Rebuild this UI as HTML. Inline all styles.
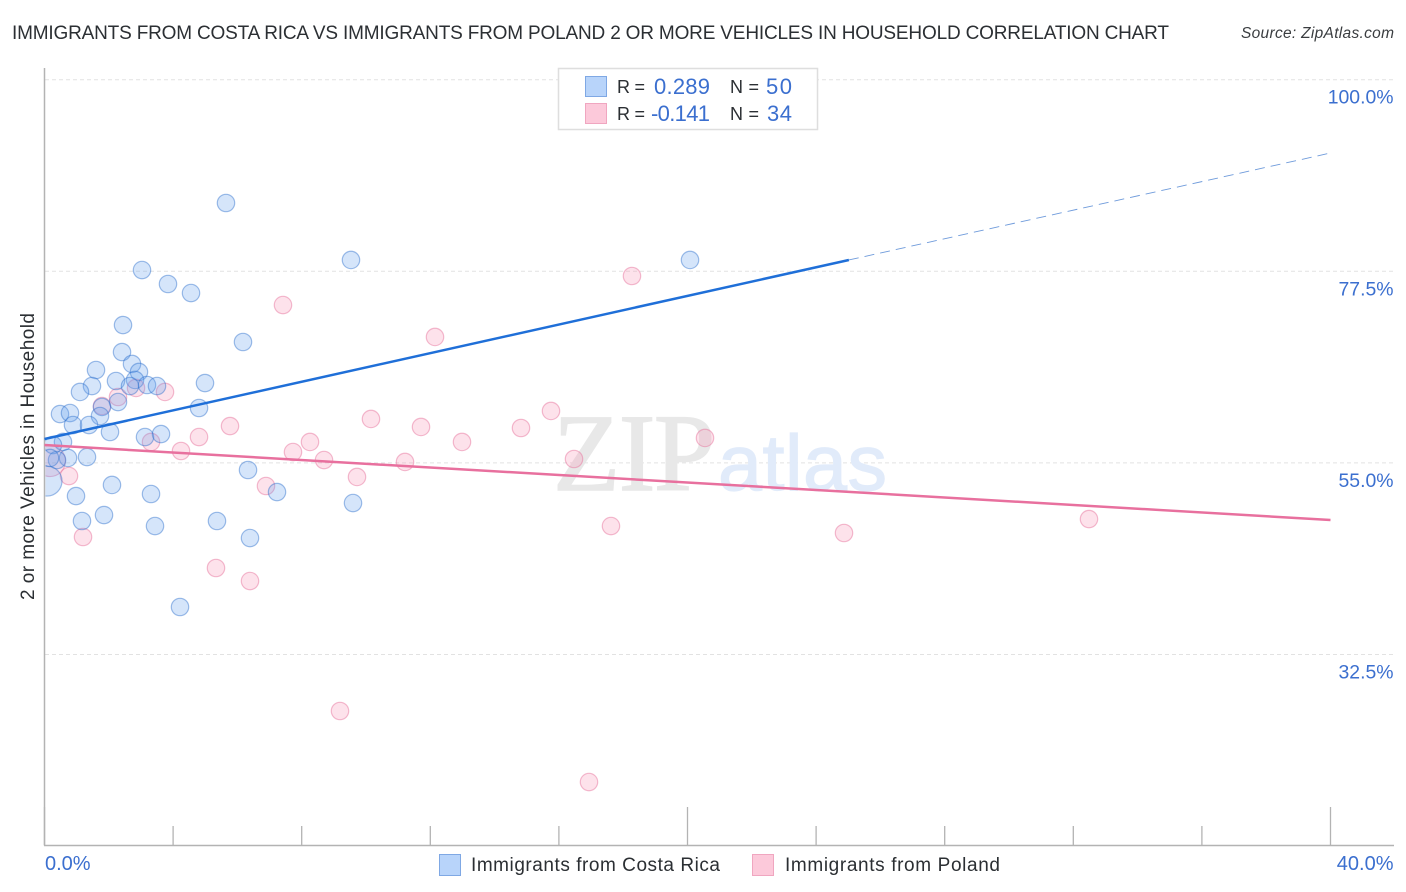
<!DOCTYPE html>
<html lang="en">
<head>
<meta charset="utf-8">
<title>Immigrants from Costa Rica vs Immigrants from Poland correlation chart</title>
<style>
html,body{margin:0;padding:0;background:#fff;}
body{width:1406px;height:892px;overflow:hidden;}
svg{display:block;font-family:"Liberation Sans",sans-serif;}
</style>
</head>
<body>
<svg id="chart" width="1406" height="892" viewBox="0 0 1406 892" xmlns="http://www.w3.org/2000/svg">
  <defs>
    <clipPath id="plot-clip"><rect x="45.5" y="60" width="1350" height="785"></rect></clipPath>
  </defs>
  <rect x="0" y="0" width="1406" height="892" fill="#fff"></rect>

  <text x="12" y="39" font-size="19" textLength="1157" fill="#2b2f33">IMMIGRANTS FROM COSTA RICA VS IMMIGRANTS FROM POLAND 2 OR MORE VEHICLES IN HOUSEHOLD CORRELATION CHART</text>
  <text x="1241" y="38" font-size="15.5" font-style="italic" textLength="153" fill="#3a3d40">Source: ZipAtlas.com</text>

  <g id="grid"></g>

  <g>
    <text x="553" y="490" font-family="'Liberation Serif',serif" font-size="110" textLength="162" fill="#e8e8e8" stroke="#e8e8e8" stroke-width="1.5">ZIP</text>
    <text x="718" y="490" font-size="79" textLength="169" fill="#e1ebfa" stroke="#e1ebfa" stroke-width="1.2">atlas</text>
  </g>

  <g id="axes"></g>
  <g id="y-labels"></g>
  <g id="x-labels"></g>

  <text transform="translate(34 600) rotate(-90)" x="0" y="0" font-size="19" textLength="287" fill="#2b2f33">2 or more Vehicles in Household</text>

  <g id="points" clip-path="url(#plot-clip)"></g>
  <g id="trends"></g>

  <g>
    <rect x="558.5" y="68.5" width="259" height="61" fill="#fff" stroke="#dedede" stroke-width="1.5"></rect>
    <rect x="585.5" y="76.5" width="21" height="20" fill="#b8d4fa" stroke="#7fa8e4" stroke-width="1"></rect>
    <rect x="585.5" y="103.5" width="21" height="20" fill="#fcc9da" stroke="#f0a6c0" stroke-width="1"></rect>
    <text x="617" y="93" font-size="18" textLength="28" fill="#2b2f33">R =</text>
    <text x="654" y="94" font-size="22" textLength="56" fill="#3b6fcf">0.289</text>
    <text x="730" y="93" font-size="18" textLength="29" fill="#2b2f33">N =</text>
    <text x="766" y="94" font-size="22" textLength="26" fill="#3b6fcf">50</text>
    <text x="617" y="120" font-size="18" textLength="28" fill="#2b2f33">R =</text>
    <text x="651" y="121" font-size="22" textLength="59" fill="#3b6fcf">-0.141</text>
    <text x="730" y="120" font-size="18" textLength="29" fill="#2b2f33">N =</text>
    <text x="767" y="121" font-size="22" textLength="25" fill="#3b6fcf">34</text>
  </g>

  <g>
    <rect x="439.5" y="854.5" width="21" height="21" fill="#b8d4fa" stroke="#7fa8e4" stroke-width="1"></rect>
    <text x="471" y="871" font-size="19" textLength="249" fill="#2b2f33">Immigrants from Costa Rica</text>
    <rect x="752.5" y="854.5" width="21" height="21" fill="#fcc9da" stroke="#f0a6c0" stroke-width="1"></rect>
    <text x="785" y="871" font-size="19" textLength="215" fill="#2b2f33">Immigrants from Poland</text>
  </g>
</svg>

<script>
var blueX = [5.645,9.533,20.078,3.033,3.841,4.557,2.442,6.174,2.411,2.722,1.602,2.939,2.224,2.815,1.477,2.659,3.188,3.499,4.992,1.104,2.286,1.788,4.806,1.726,0.482,0.793,0.886,1.384,2.037,3.126,3.624,0.575,0.264,0.731,1.322,0.389,0.980,2.099,3.313,6.330,7.232,9.596,1.851,1.166,3.437,5.365,6.392,4.215,0.171];
var blueY = [85.52,78.83,78.83,77.65,76.01,74.95,71.19,69.20,68.02,66.62,65.91,65.68,64.62,64.74,64.03,64.03,64.15,64.03,64.38,63.33,62.15,61.57,61.45,60.51,60.74,60.86,59.45,59.45,58.63,58.04,58.39,57.46,57.10,55.58,55.69,55.34,51.11,52.41,51.35,54.17,51.58,50.29,48.88,48.18,47.59,48.18,46.18,38.08,55.58];
var blueLargeX = [0.078];
var blueLargeY = [52.87];
var pinkX = [1.788,2.286,2.846,3.748,5.770,4.806,3.313,4.246,7.729,0.762,6.889,1.198,5.334,6.392,7.418,12.146,18.273,10.155,11.711,8.258,12.986,14.821,15.754,8.694,11.213,9.720,16.470,20.544,17.620,24.868,32.488,9.191,16.936];
var pinkY = [61.68,62.74,63.80,63.33,59.33,58.04,57.46,56.40,56.28,53.46,52.29,46.30,42.66,41.13,73.54,69.79,76.95,60.16,59.22,57.46,57.46,59.10,61.10,55.34,55.11,53.35,55.46,57.93,47.59,46.77,48.41,25.87,17.53];
var pinkLargeX = [0.171];
var pinkLargeY = [55.22];
var blueTrendX = [0, 25.02];
var blueTrendY = [57.81, 78.83];
var blueDashX = [25.02, 40];
var blueDashY = [78.83, 91.39];
var pinkTrendX = [0, 40];
var pinkTrendY = [57.1, 48.3];
var yTicks = [100, 77.5, 55, 32.5];
var yTickLabels = ['100.0%', '77.5%', '55.0%', '32.5%'];
var xTicks = [0, 4, 8, 12, 16, 20, 24, 28, 32, 36, 40];
var xMajorTicks = [0, 20, 40];
var xEndLabels = [0, 40];
var xEndLabelText = ['0.0%', '40.0%'];

var NS = 'http://www.w3.org/2000/svg';
function xPos(v) { return 44.5 + v * 32.15; }
function yPos(v) { return 79.7 + (100 - v) * 8.516; }
function make(tag, attrs, parent) {
  var el = document.createElementNS(NS, tag);
  for (var k in attrs) { el.setAttribute(k, attrs[k]); }
  parent.appendChild(el);
  return el;
}

var grid = document.getElementById('grid');
var yLabels = document.getElementById('y-labels');
yTicks.forEach(function (t, i) {
  var line = make('line', {x1: 45, x2: 1394, y1: yPos(t), y2: yPos(t), stroke: '#e2e2e2', 'stroke-width': 1, 'stroke-dasharray': '4 3'}, grid);
  
  
  var label = make('text', {x: 1393.5, y: yPos(t) + 24, 'font-size': 19.4, 'text-anchor': 'end', fill: '#3b6fcf'}, yLabels);
  label.textContent = yTickLabels[i];
  
  
});

var axes = document.getElementById('axes');
var yAxis = make('line', {x1: 44.5, x2: 44.5, y1: 68, y2: 845.5, stroke: '#b3b3b3', 'stroke-width': 1.5}, axes);


var xAxis = make('line', {x1: 44, x2: 1394, y1: 845.5, y2: 845.5, stroke: '#b3b3b3', 'stroke-width': 1.5}, axes);


xTicks.forEach(function (t) {
  var major = xMajorTicks.indexOf(t) >= 0;
  var tick = make('line', {x1: xPos(t), x2: xPos(t), y1: major ? 807 : 826, y2: 845, stroke: '#b3b3b3', 'stroke-width': 1.3}, axes);
  
  
});

var xLabels = document.getElementById('x-labels');
xEndLabels.forEach(function (t, i) {
  var label = make('text', {x: i === 0 ? xPos(t) + 0.5 : xPos(t) + 63, y: 870, 'font-size': 20, 'text-anchor': i === 0 ? 'start' : 'end', fill: '#3b6fcf'}, xLabels);
  label.textContent = xEndLabelText[i];
  
  
});

var points = document.getElementById('points');
function drawSeries(xs, ys, r, fill, stroke, name) {
  xs.forEach(function (v, i) {
    var dot = make('circle', {cx: xPos(v), cy: yPos(ys[i]), r: r, fill: fill, stroke: stroke, 'stroke-width': 1.2}, points);
    
    
  });
}
var pinkFill = 'rgba(248,140,175,0.25)';
var pinkStroke = 'rgba(232,120,160,0.5)';
var blueFill = 'rgba(100,160,235,0.27)';
var blueStroke = 'rgba(45,110,205,0.45)';
drawSeries(pinkLargeX, pinkLargeY, 15.5, pinkFill, pinkStroke, 'point-poland');
drawSeries(pinkX, pinkY, 8.7, pinkFill, pinkStroke, 'point-poland');
drawSeries(blueLargeX, blueLargeY, 15, blueFill, blueStroke, 'point-costa-rica');
drawSeries(blueX, blueY, 8.7, blueFill, blueStroke, 'point-costa-rica');

var trends = document.getElementById('trends');
var blueTrend = make('line', {x1: xPos(blueTrendX[0]), y1: yPos(blueTrendY[0]), x2: xPos(blueTrendX[1]), y2: yPos(blueTrendY[1]), stroke: '#1f6fd8', 'stroke-width': 2.5}, trends);


var blueDash = make('line', {x1: xPos(blueDashX[0]), y1: yPos(blueDashY[0]), x2: xPos(blueDashX[1]), y2: yPos(blueDashY[1]), stroke: '#6f9bdb', 'stroke-width': 0.9, 'stroke-dasharray': '10 6'}, trends);


var pinkTrend = make('line', {x1: xPos(pinkTrendX[0]), y1: yPos(pinkTrendY[0]), x2: xPos(pinkTrendX[1]), y2: yPos(pinkTrendY[1]), stroke: '#e8709e', 'stroke-width': 2.5}, trends);


</script>
</body>
</html>
